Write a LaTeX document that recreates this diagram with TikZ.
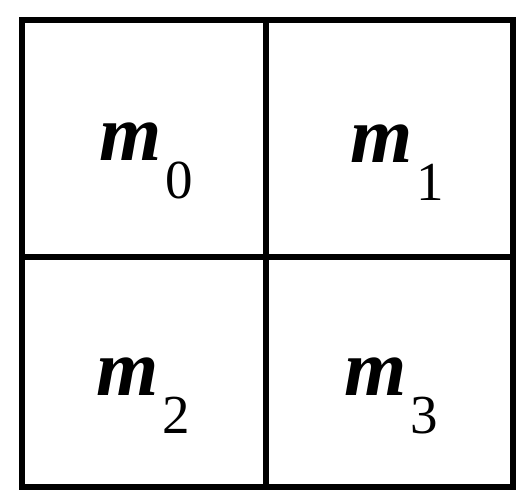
\documentclass[tikz,border=0pt]{standalone}
\usepackage{fontspec}
\setmainfont{Liberation Serif}
\newcommand{\mlbl}[1]{{\fontsize{80}{90}\selectfont\bfseries\itshape m}\kern4pt\raisebox{-38pt}{\fontsize{55}{60}\selectfont #1}}
\begin{document}
\begin{tikzpicture}[x=1pt,y=-1pt,
  gridline/.style={line width=6pt,line cap=rect,line join=miter},
  lbl/.style={anchor=base west,inner sep=0pt}]
\useasboundingbox (0,0) rectangle (518,498);
\draw[gridline] (22,20) rectangle (513,487);
\draw[gridline] (266,20) -- (266,487);
\draw[gridline] (22,257) -- (513,257);
\node[lbl] (m0) at (99,160) {\mlbl{0}};
\node[lbl] (m1) at (350,162) {\mlbl{1}};
\node[lbl] (m2) at (96,395) {\mlbl{2}};
\node[lbl] (m3) at (344,395) {\mlbl{3}};
\end{tikzpicture}
\end{document}
